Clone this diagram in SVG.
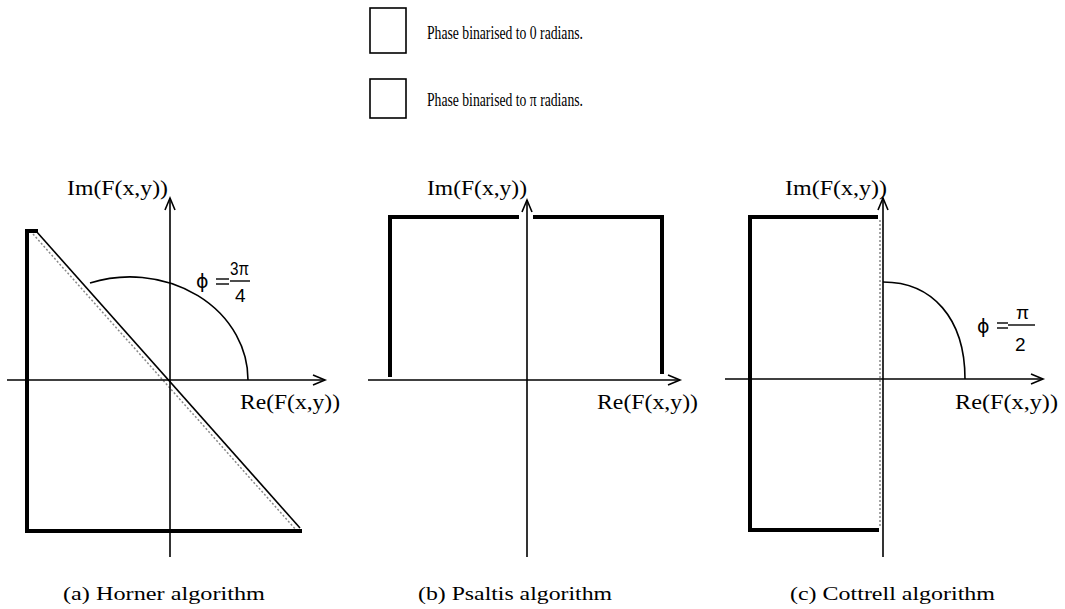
<svg xmlns="http://www.w3.org/2000/svg" width="1065" height="609" viewBox="0 0 1065 609">
<style>
text{font-family:"Liberation Serif","Times New Roman",serif;fill:#000}
.lbl{font-size:21px}
.cap{font-size:18px}
.leg{font-size:19px}
.frac{font-size:19px;font-family:"Liberation Sans",Arial,sans-serif}
.phi{font-size:19px;font-family:"DejaVu Sans","Noto Sans",sans-serif}
.axis{stroke:#000;stroke-width:1.6;fill:none}
.thick{stroke:#000;stroke-width:4;fill:none;stroke-linecap:square}
.thin{stroke:#000;stroke-width:1.6;fill:none}
.eq{stroke:#000;stroke-width:1.4;fill:none}
.grey{stroke:#888;stroke-width:1.5;fill:none;stroke-dasharray:2 2}
.box{stroke:#000;stroke-width:1.6;fill:#fff}
</style>
<defs>
<marker id="arr" markerUnits="userSpaceOnUse" markerWidth="16" markerHeight="14" refX="13" refY="6" orient="auto">
<path d="M1,1 L13,6 L1,11" fill="none" stroke="#000" stroke-width="1.6"/>
</marker>
</defs>

<g id="legend">
<rect class="box" x="370" y="8" width="36" height="45"/>
<text class="leg" x="427" y="39" textLength="156" lengthAdjust="spacingAndGlyphs">Phase binarised to 0 radians.</text>
<rect class="box" x="370" y="79" width="36" height="39"/>
<text class="leg" x="427" y="106" textLength="156" lengthAdjust="spacingAndGlyphs">Phase binarised to π radians.</text>
</g>

<g id="panel-a">
<line class="grey" x1="33" y1="234" x2="297" y2="531"/>
<polyline class="thick" points="36,231 27,231 27,531 300,531"/>
<line class="thin" x1="36" y1="231" x2="300" y2="528"/>
<path class="thin" d="M90,283 A118,103 0 0,1 248,380"/>
<text class="phi" x="196" y="288">ϕ</text>
<line class="eq" x1="216" y1="279" x2="229" y2="279"/>
<line class="eq" x1="216" y1="284" x2="229" y2="284"/>
<text class="frac" x="230" y="275" textLength="19" lengthAdjust="spacingAndGlyphs">3π</text>
<line class="eq" x1="230" y1="281" x2="250" y2="281"/>
<text class="frac" x="235" y="302">4</text>
<text class="cap" x="63" y="600" textLength="202" lengthAdjust="spacingAndGlyphs">(a) Horner algorithm</text>
</g>

<g id="panel-b">
<polyline class="thick" points="390,375 390,217 517,217"/>
<polyline class="thick" points="535,217 662,217 662,372"/>
<text class="cap" x="418" y="600" textLength="194" lengthAdjust="spacingAndGlyphs">(b) Psaltis algorithm</text>
</g>

<g id="panel-c">
<line class="grey" x1="880" y1="220" x2="880" y2="528"/>
<polyline class="thick" points="876,217 750,217 750,530 877,530"/>
<path class="thin" d="M883,282 C932,282 965,318 965,379"/>
<text class="phi" x="977" y="333">ϕ</text>
<line class="eq" x1="997" y1="323" x2="1008" y2="323"/>
<line class="eq" x1="997" y1="328" x2="1008" y2="328"/>
<text class="frac" x="1016" y="319">π</text>
<line class="eq" x1="1008" y1="325" x2="1035" y2="325"/>
<text class="frac" x="1015" y="351">2</text>
<text class="cap" x="790" y="600" textLength="205" lengthAdjust="spacingAndGlyphs">(c) Cottrell algorithm</text>
</g>

<g id="connectors">
<line class="axis" x1="7" y1="380" x2="325" y2="380" marker-end="url(#arr)"/>
<line class="axis" x1="170" y1="557" x2="170" y2="198" marker-end="url(#arr)"/>
<line class="axis" x1="368" y1="380" x2="680" y2="380" marker-end="url(#arr)"/>
<line class="axis" x1="527" y1="557" x2="527" y2="200" marker-end="url(#arr)"/>
<line class="axis" x1="725" y1="379" x2="1043" y2="379" marker-end="url(#arr)"/>
<line class="axis" x1="883" y1="557" x2="883" y2="198" marker-end="url(#arr)"/>
</g>

<g id="axis-labels">
<text class="lbl" x="67" y="195" textLength="101" lengthAdjust="spacingAndGlyphs">Im(F(x,y))</text>
<text class="lbl" x="240" y="409" textLength="100" lengthAdjust="spacingAndGlyphs">Re(F(x,y))</text>
<text class="lbl" x="427" y="195" textLength="100" lengthAdjust="spacingAndGlyphs">Im(F(x,y))</text>
<text class="lbl" x="597" y="409" textLength="101" lengthAdjust="spacingAndGlyphs">Re(F(x,y))</text>
<text class="lbl" x="785" y="195" textLength="102" lengthAdjust="spacingAndGlyphs">Im(F(x,y))</text>
<text class="lbl" x="955" y="409" textLength="103" lengthAdjust="spacingAndGlyphs">Re(F(x,y))</text>
</g>
</svg>
